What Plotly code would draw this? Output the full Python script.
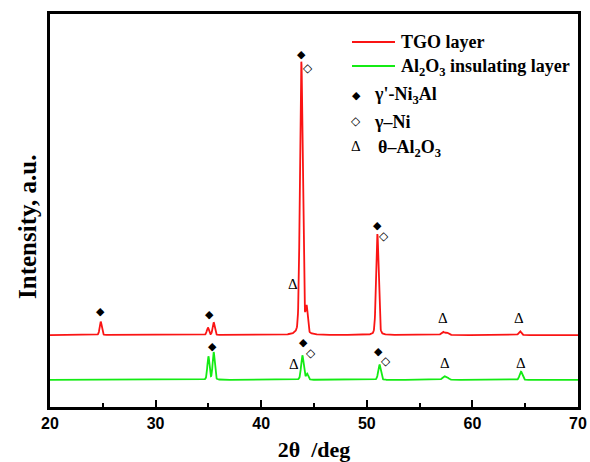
import numpy as np
import plotly.graph_objects as go

# ---- data ----
two_theta_min, two_theta_max, step = 20.0, 70.0, 0.02

tgo_baseline = 18.3
tgo_peak_pos = [24.8, 34.95, 35.5, 43.8, 44.3, 51.0, 57.2, 57.6, 64.5]
tgo_peak_hgt = [3.4, 1.9, 3.2, 69.5, 6.4, 25.7, 0.8, 0.6, 1.0]
tgo_peak_wid = [0.10, 0.10, 0.10, 0.13, 0.10, 0.12, 0.15, 0.15, 0.12]

ins_baseline = 6.9
ins_peak_pos = [35.0, 35.5, 43.9, 44.35, 51.2, 57.3, 57.6, 64.6]
ins_peak_hgt = [5.9, 7.0, 6.2, 1.5, 3.9, 0.8, 0.6, 2.1]
ins_peak_wid = [0.10, 0.10, 0.12, 0.10, 0.12, 0.15, 0.15, 0.13]

# peak labels: (2theta, y, symbol)
tgo_labels_x = [24.8, 35.1, 43.0, 43.8, 44.45, 51.0, 51.65, 57.2, 64.4]
tgo_labels_y = [24.4, 23.6, 31.3, 89.6, 86.3, 46.1, 43.5, 22.6, 22.6]
tgo_labels_s = ["◆", "◆", "Δ", "◆", "◇", "◆", "◇", "Δ", "Δ"]

ins_labels_x = [35.4, 43.15, 44.0, 44.75, 51.15, 51.8, 57.4, 64.6]
ins_labels_y = [15.5, 11.0, 16.3, 13.8, 14.2, 11.6, 11.2, 11.2]
ins_labels_s = ["◆", "Δ", "◆", "◇", "◆", "◇", "Δ", "Δ"]

x = np.arange(two_theta_min, two_theta_max + step / 2, step)


def pattern(base, pos, hgt, wid):
    y = np.full_like(x, base)
    for p, h, w in zip(pos, hgt, wid):
        # pseudo-Voigt
        g = np.exp(-0.5 * ((x - p) / w) ** 2)
        l = 1.0 / (1.0 + ((x - p) / (1.2 * w)) ** 2)
        y += h * (0.8 * g + 0.2 * l)
    return y


y_tgo = pattern(tgo_baseline, tgo_peak_pos, tgo_peak_hgt, tgo_peak_wid)
y_ins = pattern(ins_baseline, ins_peak_pos, ins_peak_hgt, ins_peak_wid)

fig = go.Figure()
fig.add_trace(go.Scatter(x=x, y=y_tgo, mode="lines", line=dict(color="rgb(250,20,20)", width=1.8),
                         showlegend=False, hoverinfo="skip"))
fig.add_trace(go.Scatter(x=x, y=y_ins, mode="lines", line=dict(color="rgb(20,235,20)", width=1.8),
                         showlegend=False, hoverinfo="skip"))

ann = []
dia_font = dict(family="DejaVu Sans", size=11, color="black")
odia_font = dict(family="DejaVu Sans", size=12, color="black")
tri_font = dict(family="Liberation Serif", size=15, color="black")
fonts = {"◆": dia_font, "◇": odia_font, "Δ": tri_font}
for xs, ys, ss in ((tgo_labels_x, tgo_labels_y, tgo_labels_s), (ins_labels_x, ins_labels_y, ins_labels_s)):
    for a, b, s in zip(xs, ys, ss):
        ann.append(dict(x=a, y=b, xref="x", yref="y", text=s, showarrow=False, font=fonts[s]))

# legend (manual)
serif_b = dict(family="Liberation Serif", size=18, color="black")
W, H = 590, 462
L, R, T, B = 50, 12, 14, 55


def px(xp):
    return (xp - L) / (W - L - R)


def py(yp):
    return 1 - (yp - T) / (H - T - B)


shapes = [
    dict(type="line", xref="paper", yref="paper", x0=px(352), x1=px(395), y0=py(42), y1=py(42),
         line=dict(color="rgb(250,20,20)", width=2)),
    dict(type="line", xref="paper", yref="paper", x0=px(352), x1=px(395), y0=py(66), y1=py(66),
         line=dict(color="rgb(20,235,20)", width=2)),
]
leg_items = [
    (399, 42, "<b>TGO layer</b>"),
    (399, 67, "<b>Al<sub>2</sub>O<sub>3</sub> insulating layer</b>"),
    (372, 96, "<b>γ'-Ni<sub>3</sub>Al</b>"),
    (372, 122, "<b>γ–Ni</b>"),
    (376, 148, "<b>θ–Al<sub>2</sub>O<sub>3</sub></b>"),
]
for xp, yp, t in leg_items:
    ann.append(dict(x=px(xp), y=py(yp), xref="paper", yref="paper", text=t, showarrow=False,
                    xanchor="left", yanchor="middle", font=serif_b))
for xp, yp, s in [(356, 96, "◆"), (356, 121, "◇"), (356, 146, "Δ")]:
    ann.append(dict(x=px(xp), y=py(yp), xref="paper", yref="paper", text=s, showarrow=False,
                    xanchor="center", yanchor="middle", font=fonts[s]))

# y-axis title (placed as in the reference, slightly below the axis centre)
ann.append(dict(x=px(27), y=py(227), xref="paper", yref="paper", text="<b>Intensity, a.u.</b>",
                textangle=-90, showarrow=False, xanchor="center", yanchor="middle",
                font=dict(family="Liberation Serif", size=25, color="black")))

fig.update_layout(
    width=W, height=H,
    margin=dict(l=L, r=R, t=T, b=B),
    paper_bgcolor="white", plot_bgcolor="white",
    annotations=ann, shapes=shapes,
    xaxis=dict(range=[20, 70], dtick=10, tick0=20, showgrid=False, zeroline=False, automargin=False,
               showline=True, linecolor="black", linewidth=2.5, mirror=True,
               ticks="inside", ticklen=7, tickwidth=2, tickcolor="black",
               minor=dict(ticks="inside", ticklen=4, tickwidth=2, tickcolor="black", dtick=5),
               tickfont=dict(family="Liberation Sans", size=16, color="black", weight="bold"),
               title=dict(text="<b>2θ  /deg</b>", font=dict(family="Liberation Serif", size=22, color="black"),
                          standoff=13)),
    yaxis=dict(range=[0, 100], showgrid=False, zeroline=False, showticklabels=False, ticks="", automargin=False,
               showline=True, linecolor="black", linewidth=2.5, mirror=True),
)

fig.write_html("out.html", config={"displayModeBar": False},
               post_script="document.body.style.margin='0';document.body.style.overflow='hidden';")
